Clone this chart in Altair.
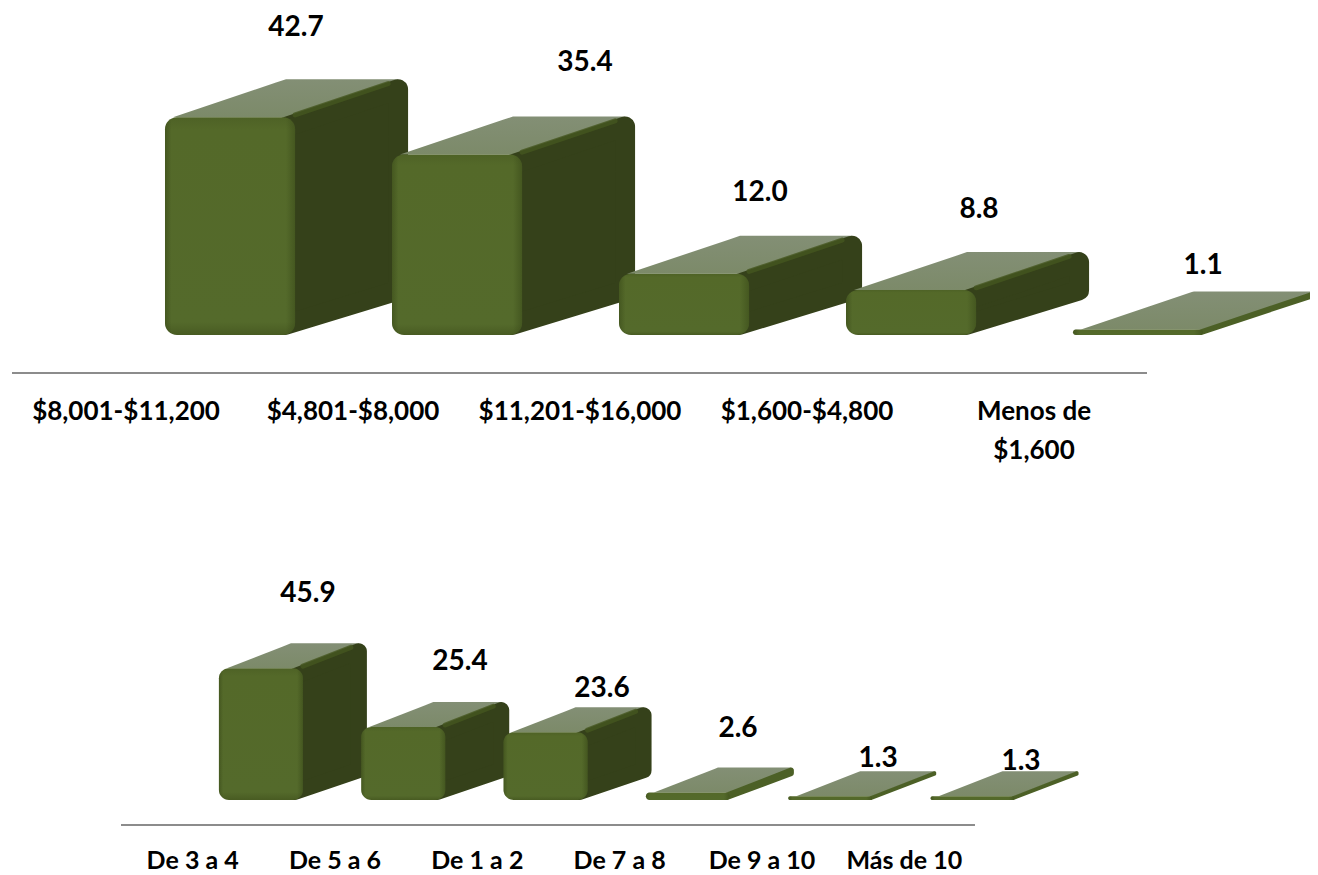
import altair as alt
import pandas as pd

# ---- data
cats_a = ["$8,001-$11,200", "$4,801-$8,000", "$11,201-$16,000", "$1,600-$4,800", "Menos de|$1,600"]
vals_a = [42.7, 35.4, 12.0, 8.8, 1.1]
label_x_a = [1.251, 2.524, 3.295, 4.260, 5.247]   # category units
label_y_a = [60.2, 53.3, 27.8, 24.5, 13.5]         # value units

cats_b = ["De 3 a 4", "De 5 a 6", "De 1 a 2", "De 7 a 8", "De 9 a 10", "Más de 10"]
vals_b = [45.9, 25.4, 23.6, 2.6, 1.3, 1.3]
label_x_b = [1.314, 2.382, 3.379, 4.335, 5.319, 6.323]
label_y_b = [71.8, 48.1, 38.7, 24.7, 14.3, 13.2]


def grad(vertical, stops):
    return alt.LinearGradient(gradient="linear", x1=0, y1=0, x2=0 if vertical else 1, y2=1 if vertical else 0,
                              stops=[alt.GradientStop(offset=o, color=c) for o, c in stops])


FRONT = grad(True, [(0, "#4e6226"), (0.06, "#546929"), (0.94, "#546a2b"), (1, "#485b22")])
EDGE = grad(False, [(0, "rgba(50,65,20,0.45)"), (0.05, "rgba(50,65,20,0)"),
                    (0.93, "rgba(50,65,20,0)"), (1, "rgba(50,65,20,0.45)")])
TOP = grad(True, [(0, "#838f75"), (1, "#7c8a69")])
W = 1302


def panel(cats, vals, lx, ly, sx, sy, x0px, y0px, h, front_off, bar_w, dxpx, dypx, rad, label_pad, label_size):
    n = len(cats)
    xdom = [-x0px / sx, (W - x0px) / sx]
    ydom = [-(h - y0px) / sy, y0px / sy]
    dx, dy = dxpx / sx, dypx / sy
    xs = alt.Scale(domain=xdom, nice=False, zero=False)
    ys = alt.Scale(domain=ydom, nice=False, zero=False)
    side, edge, top, front = [], [], [], []
    for i, v in enumerate(vals):
        xa = i + front_off
        xb = xa + bar_w
        r = min(rad, v * sy / 2.6)
        rx, ry = r / sx, r / sy
        side += [
            dict(x=xb - rx, y=v - ry, y2=ry, sw=2 * r, b=i),
            dict(x=xb + dx - rx, y=v + dy - ry, y2=dy * (1 - rx / dx) + ry, sw=2 * r, b=i),
        ]
        edge += [
            dict(x=xb, y=v + dy * rx / dx - 1.0 / sy, b=i),
            dict(x=xb + dx - 2 * rx, y=v + dy * (1 - rx / dx) - 1.0 / sy, b=i),
        ]
        t = 1 - rx / dx
        lft = xa + 8 / sx
        top += [
            dict(y=v, x=lft, x2=xb, b=i),
            dict(y=v + t * dy, x=lft + t * dx, x2=xb + t * dx, b=i),
            dict(y=v + dy, x=lft + dx, x2=xb + t * dx, b=i),
        ]
        front.append(dict(x=xa, x2=xb, y=v, y2=0, b=i))
    side, edge, top, front = map(pd.DataFrame, (side, edge, top, front))

    labels = "[" + ",".join(
        "[" + ",".join(f"'{p}'" for p in c.split("|")) + "]" for c in cats) + "]"
    axis = alt.Axis(values=[i + 0.5 for i in range(n)], labelExpr=f"{labels}[floor(datum.value)]",
                    domain=False, ticks=False, grid=False, title=None, labelAngle=0,
                    labelFont="Lato", labelFontWeight="bold", labelFontSize=label_size, labelColor="#000000",
                    labelPadding=label_pad, labelLineHeight=39, labelOverlap=False, labelFlush=False,
                    labelBound=False, labelAlign="center", labelLimit=400)
    noy = alt.Y("y:Q", scale=ys, axis=None)
    nox = alt.X("x:Q", scale=xs, axis=axis)

    rule = alt.Chart(pd.DataFrame([dict(x=0, x2=n, y=ydom[0])])).mark_rule(
        color="#8c8c8c", strokeWidth=2
    ).encode(x=nox, x2="x2:Q", y=noy)

    layers = [rule]
    for i, v in enumerate(vals):
        low = v * sy < 12
        side_col = "#4c6026" if low else "#35411a"
        layers.append(alt.Chart(top[top.b == i]).mark_area(orient="horizontal", color=TOP, clip=True).encode(
            y=noy, x=nox, x2="x2:Q"))
        layers.append(alt.Chart(side[side.b == i]).mark_area(
            orient="vertical", color=side_col, stroke=side_col, strokeJoin="round", clip=True
        ).encode(x=nox, y=noy, y2="y2:Q",
                 strokeWidth=alt.StrokeWidth("sw:Q", scale=None)))
        if not low:
            layers.append(alt.Chart(edge[edge.b == i]).mark_line(
                color="#45561f", strokeWidth=5, strokeCap="round", opacity=0.8
            ).encode(x=nox, y=noy))
        cr = min(rad + 2, v * sy / 2)
        layers.append(alt.Chart(front[front.b == i]).mark_rect(cornerRadius=cr, color=FRONT).encode(
            x=nox, x2="x2:Q", y=noy, y2="y2:Q"))
        layers.append(alt.Chart(front[front.b == i]).mark_rect(cornerRadius=cr, color=EDGE).encode(
            x=nox, x2="x2:Q", y=noy, y2="y2:Q"))

    txt = pd.DataFrame(dict(x=lx, y=ly, t=[f"{v:.1f}" for v in vals]))
    layers.append(alt.Chart(txt).mark_text(font="Lato", fontWeight="bold", fontSize=28, color="#000000").encode(
        x=nox, y=noy, text="t:N"))
    return alt.layer(*layers).properties(width=W, height=h)


a = panel(cats_a, vals_a, label_x_a, label_y_a, 227.0, 5.1, 4, 327, 365, 0.674, 0.573, 113, 38, 10, 25, 26)
b = panel(cats_b, vals_b, label_x_b, label_y_b, 142.33, 2.87, 113, 427, 452, 0.688, 0.59, 64, 25, 8, 23, 25)

chart = alt.vconcat(a, b, spacing=0, bounds="flush", padding=0).configure_view(stroke=None)
chart.save("out.html", embed_options={"renderer": "svg", "actions": False})
